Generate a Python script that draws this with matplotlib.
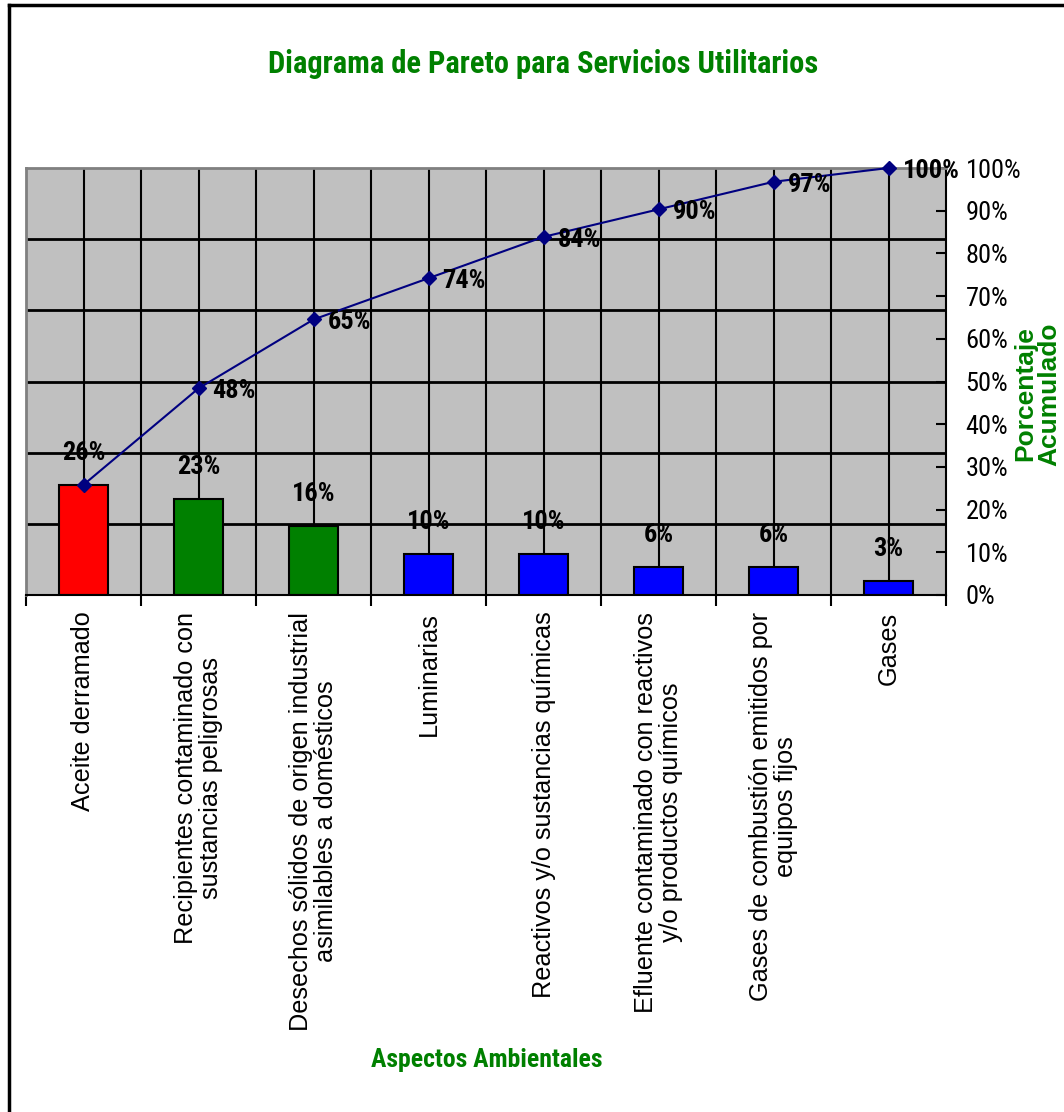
import matplotlib
matplotlib.use('Agg')
import matplotlib.pyplot as plt
from matplotlib import font_manager
from matplotlib.lines import Line2D

# datos del diagrama de Pareto
aspectos = ['Aceite derramado',
            'Recipientes contaminado con\nsustancias peligrosas',
            'Desechos sólidos de origen industrial\nasimilables a domésticos',
            'Luminarias',
            'Reactivos y/o sustancias químicas',
            'Efluente contaminado con reactivos\ny/o productos químicos',
            'Gases de combustión emitidos por\nequipos fijos',
            'Gases']
porcentaje = [25.81, 22.58, 16.13, 9.68, 9.68, 6.45, 6.45, 3.23]
acumulado = [25.81, 48.39, 64.52, 74.19, 83.87, 90.32, 96.77, 100.0]
colores = ['#FF0000', '#008000', '#008000', '#0000FF', '#0000FF', '#0000FF', '#0000FF', '#0000FF']
ticks_der = [0, 10, 20, 30, 40, 50, 60, 70, 80, 90, 100]

VERDE = '#008000'

# fuente angosta (parecida a Arial Narrow)
nombres = {f.name for f in font_manager.fontManager.ttflist}
if 'Roboto Condensed' in nombres:
    NARROW = 'Roboto Condensed'
    esc = 1.0
else:
    NARROW = 'Liberation Sans'
    esc = 0.85
NORMAL = 'Liberation Sans'

fig = plt.figure(figsize=(10.64, 11.12), dpi=100)
ax = fig.add_axes([26 / 1064, 1 - 595 / 1112, 920 / 1064, 427 / 1112])
ax.set_facecolor('#C0C0C0')

n = len(aspectos)
x = list(range(n))
ax.set_xlim(-0.5, n - 0.5)
ax.set_ylim(0, 100)

# rejilla
for k in range(1, 6):
    ax.axhline(100 * k / 6, color='black', lw=2, zorder=1)
for i in range(n):
    ax.axvline(i, color='black', lw=1.5, zorder=1)
    if i > 0:
        ax.axvline(i - 0.5, color='black', lw=1.5, zorder=1)

# barras
ax.bar(x, porcentaje, width=0.42, color=colores, edgecolor='black', linewidth=1.5, zorder=2)
for xi, v in zip(x, porcentaje):
    ax.annotate(f'{v:.0f}%', (xi, v), xytext=(0, 32), textcoords='offset pixels',
                ha='center', va='center', fontsize=19 * esc, fontweight='bold',
                family=NARROW, zorder=4)

# linea acumulada
ax.plot(x, acumulado, color='#000080', lw=1.5, marker='D', markersize=7, zorder=3, clip_on=False)
for xi, v in zip(x[1:], acumulado[1:]):
    ax.annotate(f'{v:.0f}%', (xi, v), xytext=(14, -3), textcoords='offset pixels',
                ha='left', va='center', fontsize=19 * esc, fontweight='bold',
                family=NARROW, zorder=4, annotation_clip=False)

# ejes
for lado in ['left', 'top']:
    ax.spines[lado].set_color('#808080')
    ax.spines[lado].set_linewidth(2)
for lado in ['right', 'bottom']:
    ax.spines[lado].set_color('black')
    ax.spines[lado].set_linewidth(1.5)

ax.yaxis.tick_right()
ax.set_yticks(ticks_der)
ax.set_yticklabels([f'{t}%' for t in ticks_der], family=NARROW, fontsize=19 * esc)
ax.tick_params(axis='y', direction='in', length=7, width=1.5, pad=14)

ax.set_xticks(x)
ax.set_xticklabels(aspectos, rotation=90, fontsize=18.2, family=NORMAL,
                   multialignment='center', linespacing=1.02)
ax.set_xticks([i - 0.5 for i in range(n + 1)], minor=True)
ax.tick_params(axis='x', which='major', length=0, pad=12)
ax.tick_params(axis='x', which='minor', direction='out', length=8, width=1.5)

# titulos
fig.text(543 / 1064, 1 - 64 / 1112, 'Diagrama de Pareto para Servicios Utilitarios',
         ha='center', va='center', color=VERDE, fontsize=22 * esc, fontweight='bold', family=NARROW)
fig.text(487 / 1064, 1 - 1060 / 1112, 'Aspectos Ambientales',
         ha='center', va='center', color=VERDE, fontsize=18.5 * esc, fontweight='bold', family=NARROW)
fig.text(1037 / 1064, 1 - 394 / 1112, 'Porcentaje\nAcumulado', rotation=90,
         ha='center', va='center', color=VERDE, fontsize=19, fontweight='bold', family=NORMAL,
         linespacing=1.0)

# marco del grafico
fig.add_artist(Line2D([9 / 1064, 9 / 1064], [0, 1 - 5 / 1112], color='black', lw=2.5,
                      transform=fig.transFigure))
fig.add_artist(Line2D([9 / 1064, 1], [1 - 5 / 1112, 1 - 5 / 1112], color='black', lw=2.5,
                      transform=fig.transFigure))

fig.savefig('out.png', dpi=100)
